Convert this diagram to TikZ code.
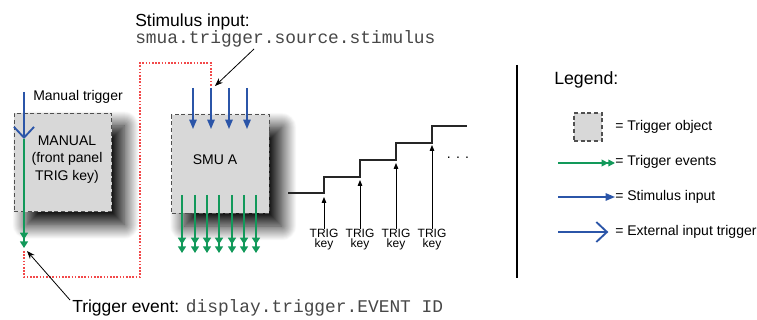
\documentclass[tikz,border=0pt]{standalone}
\usepackage{fontspec}
\setmainfont{Liberation Sans}
\setmonofont{Liberation Mono}
\usetikzlibrary{arrows.meta,shadows.blur}
\definecolor{tblue}{HTML}{2B55A8}
\definecolor{tgreen}{HTML}{12995A}
\definecolor{tred}{HTML}{F2494A}
\definecolor{boxfill}{HTML}{D8D8D8}
\definecolor{boxedge}{HTML}{505050}
\begin{document}
\begin{tikzpicture}[x=0.75pt,y=-0.75pt,
  trigobj/.style={draw=boxedge, line width=0.8pt, dash pattern=on 3pt off 2pt, fill=boxfill, inner sep=0pt},
  bigbox/.style={trigobj, minimum width=73pt, minimum height=74pt},
  shad/.style={blur shadow={shadow xshift=9.5pt, shadow yshift=-9.5pt, shadow blur radius=11pt, shadow blur steps=30, shadow opacity=100}},
  body/.style={font=\fontsize{10.5}{13.1}\selectfont, inner sep=0pt},
  big/.style={font=\fontsize{13.1}{15}\selectfont, inner sep=0pt},
  mono/.style={font=\fontsize{13.4}{15}\selectfont\ttfamily, text=black!72, inner sep=0pt},
  small/.style={font=\fontsize{9}{7.6}\selectfont, inner sep=0pt, align=center},
  evt/.style={draw=tgreen, line width=1.2pt, -{Triangle[length=5pt,width=6pt,sep=1.5pt] Triangle[length=5pt,width=6pt]}},
  evtl/.style={draw=tgreen, line width=1.1pt, -{Triangle[length=5pt,width=5pt] Triangle[length=5pt,width=5pt]}},
  stim/.style={draw=tblue, line width=1.2pt, -{Triangle[length=7pt,width=5.5pt]}},
  ext/.style={draw=tblue, line width=1.3pt, -{Straight Barb[length=8pt,width=15pt,line width=1.4pt]}},
  note/.style={draw=black, line width=0.6pt, -{Stealth[length=6pt,width=4.5pt]}},
  keyarr/.style={draw=black, line width=0.6pt, -{Triangle[length=4.5pt,width=3.5pt]}},
  reddot/.style={draw=tred, line width=1.2pt, dash pattern=on 1.2pt off 1.2pt},
  stair/.style={draw=black!85, line width=0.8pt}
]
\useasboundingbox (0,0) rectangle (757,320);

% trigger objects
\node[bigbox, shad] (manual) at (63,162.5) {};
\node[bigbox, shad] (smua) at (220.5,164) {};
\node[body, align=center] (mantext) at (67,159.5) {MANUAL\\(front panel\\TRIG key)};
\node[body] (smutext) at (215,160) {SMU A};

% manual trigger
\node[body, anchor=west] (mtlabel) at (33,97) {Manual trigger};
\coordinate (mtop) at (24,92);
\coordinate (mv) at (24,139);
\coordinate (mev) at (24,248);
\draw[ext] (mtop) -- (mv);
\draw[evt] (mv) -- (mev);

% stimulus inputs
\foreach \i/\x in {1/193,2/211,3/229,4/247}{
  \coordinate (st\i) at (\x,88);
  \coordinate (sb\i) at (\x,129);
  \draw[stim] (st\i) -- (sb\i);
}
% event outputs
\foreach \i/\x in {1/182,2/195,3/207,4/219,5/232,6/244,7/256}{
  \coordinate (et\i) at (\x,195);
  \coordinate (eb\i) at (\x,253);
  \draw[evt] (et\i) -- (eb\i);
}

% red dotted link
\coordinate (r0) at (24,251);
\coordinate (r1) at (24,277);
\coordinate (r2) at (140,277);
\coordinate (r3) at (140,63);
\coordinate (r4) at (211,63);
\coordinate (r5) at (211,86);
\draw[reddot] (r0) -- (r1) -- (r2) -- (r3) -- (r4) -- (r5);

% stimulus annotation
\node[big, anchor=base west] (stimlbl) at (135,26.5) {Stimulus input:};
\node[mono, anchor=base west] (stimcode) at (135,43.5) {smua.trigger.source.stimulus};
\coordinate (sa0) at (254,49);
\coordinate (sa1) at (215,86);
\draw[note] (sa0) -- (sa1);

% trigger event annotation
\node[big, anchor=base west] (evlbl) at (72,313) {Trigger event: {\fontsize{13.4}{15}\selectfont\ttfamily\color{black!72}display.trigger.EVENT ID}};
\coordinate (ea0) at (70,300);
\coordinate (ea1) at (27,251);
\draw[note] (ea0) -- (ea1);

% staircase
\coordinate (s0) at (288,193);
\coordinate (s1) at (324,193);
\coordinate (s2) at (324,177);
\coordinate (s3) at (360,177);
\coordinate (s4) at (360,160);
\coordinate (s5) at (396,160);
\coordinate (s6) at (396,143);
\coordinate (s7) at (432,143);
\coordinate (s8) at (432,126);
\coordinate (s9) at (467,126);
\draw[stair] (s0) -- (s1) -- (s2) -- (s3) -- (s4) -- (s5) -- (s6) -- (s7) -- (s8) -- (s9);
\node[body] (dots) at (458,158) {. . .};

\foreach \i/\x/\y in {1/324/197,2/360/180,3/396/163,4/432/145}{
  \node[small, anchor=north] (tk\i) at (\x,229) {TRIG\\key};
  \coordinate (ka\i) at (\x,\y);
  \draw[keyarr] (tk\i.north) -- (ka\i);
}

% legend
\coordinate (lv0) at (517,65);
\coordinate (lv1) at (517,278);
\draw[black, line width=1.5pt] (lv0) -- (lv1);
\node[font=\fontsize{13.3}{15}\selectfont, inner sep=0pt, anchor=west] (legtitle) at (554,80) {Legend:};
\node[trigobj, minimum width=21pt, minimum height=21pt] (legbox) at (588,127) {};
\node[body, anchor=west] (lt1) at (615,127) {= Trigger object};
\node[body, anchor=west] (lt2) at (615,162) {= Trigger events};
\node[body, anchor=west] (lt3) at (615,197) {= Stimulus input};
\node[body, anchor=west] (lt4) at (615,232) {= External input trigger};
\coordinate (ll2) at (558,163);
\coordinate (ll3) at (558,197);
\coordinate (ll4) at (558,232);
\draw[evtl] (ll2) -- (lt2.west |- ll2);
\draw[stim] (ll3) -- (lt3.west |- ll3);
\draw[ext] (ll4) -- ([xshift=-5pt]lt4.west |- ll4);
\end{tikzpicture}
\end{document}
